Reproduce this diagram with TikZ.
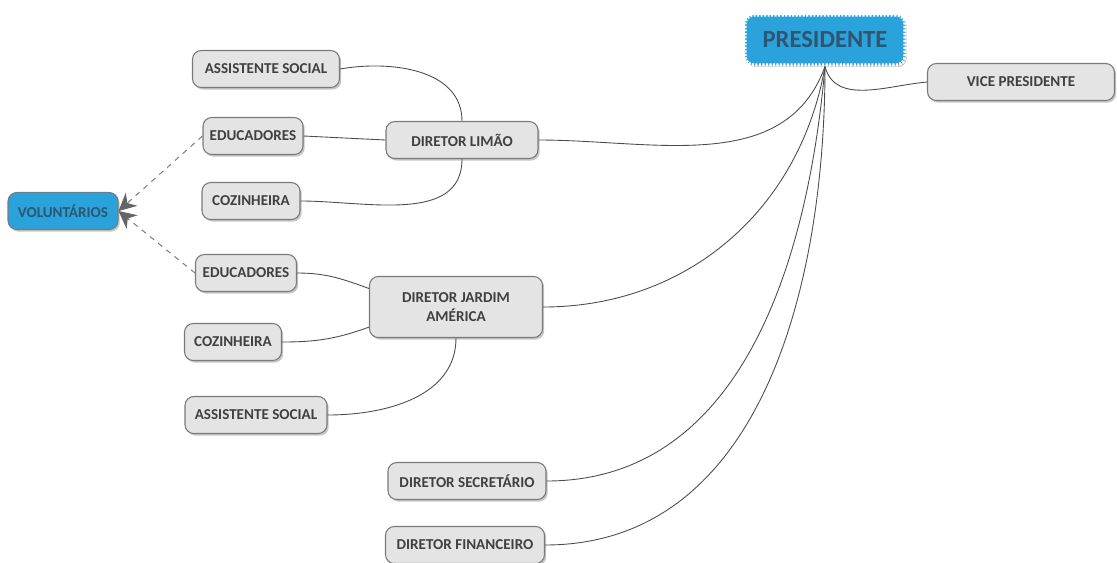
\documentclass[tikz,border=0pt]{standalone}
\usepackage{fontspec}
\setmainfont{Carlito}
\usetikzlibrary{shadows,arrows.meta}
\definecolor{boxfill}{HTML}{E4E4E4}
\definecolor{boxline}{HTML}{7A7A7A}
\definecolor{bluefill}{HTML}{2AA3DC}
\definecolor{txt}{HTML}{404040}
\definecolor{bluetxt}{HTML}{2F5570}
\begin{document}
\begin{tikzpicture}[
	x=0.02cm,y=-0.02cm,
	box/.style={draw=boxline,fill=boxfill,rounded corners=5pt,line width=0.6pt,
		drop shadow={shadow xshift=1pt,shadow yshift=-1.2pt,opacity=0.45},
		text=txt,font=\bfseries\fontsize{8.6}{10}\selectfont,inner sep=0pt,
		minimum height=0.74cm,align=center},
	bluebox/.style={box,fill=bluefill,text=bluetxt},
	edge/.style={draw=black!70,line width=0.5pt},
	vol/.style={draw=black!50,dashed,line width=0.6pt,
		-{Stealth[length=10pt,width=10pt,color=black!60,fill=black!60]}}
	]
	\useasboundingbox (0,0) rectangle (1117,562);

	% top
	\node[bluebox,minimum width=3.2cm,minimum height=1cm,draw=white,
		dash pattern=on 1.2pt off 0.8pt,line width=1.8pt,
		font=\bfseries\fontsize{14}{16}\selectfont] (pres) at (825,40) {PRESIDENTE};
	\node[box,minimum width=3.74cm] (vp) at (1021,82) {VICE PRESIDENTE};

	% diretor limao
	\node[box,minimum width=3.04cm] (limao) at (462,140) {DIRETOR LIMÃO};
	\node[box,minimum width=2.94cm] (as1) at (266,69) {ASSISTENTE SOCIAL};
	\node[box,minimum width=2cm] (edu1) at (253,136) {EDUCADORES};
	\node[box,minimum width=1.96cm] (coz1) at (251,201) {COZINHEIRA};

	\node[bluebox,minimum width=2.2cm] (vol) at (63,211) {VOLUNTÁRIOS};

	% diretor jardim america
	\node[box,minimum width=3.46cm,minimum height=1.22cm] (jardim) at (456,307) {DIRETOR JARDIM\\[1pt]AMÉRICA};
	\node[box,minimum width=2.02cm] (edu2) at (246,273) {EDUCADORES};
	\node[box,minimum width=1.94cm] (coz2) at (233,342) {COZINHEIRA};
	\node[box,minimum width=2.84cm] (as2) at (256,415) {ASSISTENTE SOCIAL};

	\node[box,minimum width=3.16cm] (sec) at (467,481) {DIRETOR SECRETÁRIO};
	\node[box,minimum width=3.18cm] (fin) at (465,545) {DIRETOR FINANCEIRO};

	\draw[edge] (pres.south) to[out=-75,in=185] (vp.west);
	\draw[edge] (pres.south) to[out=-110,in=0] (limao.east);
	\draw[edge] (pres.south) to[out=-100,in=0] (jardim.east);
	\draw[edge] (pres.south) to[out=-95,in=0] (sec.east);
	\draw[edge] (pres.south) to[out=-90,in=0] (fin.east);

	\draw[edge] (limao.north) to[out=90,in=10] (as1.east);
	\draw[edge] (edu1.east) -- (limao.west);
	\draw[edge] (limao.south) to[out=-90,in=0] (coz1.east);

	\draw[edge] (edu2.east) to[out=0,in=160] (jardim.168);
	\draw[edge] (coz2.east) to[out=0,in=200] (jardim.193);
	\draw[edge] (jardim.south) to[out=-90,in=0] (as2.east);

	\draw[vol] (edu1.west) -- (vol.east);
	\draw[vol] (edu2.west) -- (vol.east);
\end{tikzpicture}
\end{document}
